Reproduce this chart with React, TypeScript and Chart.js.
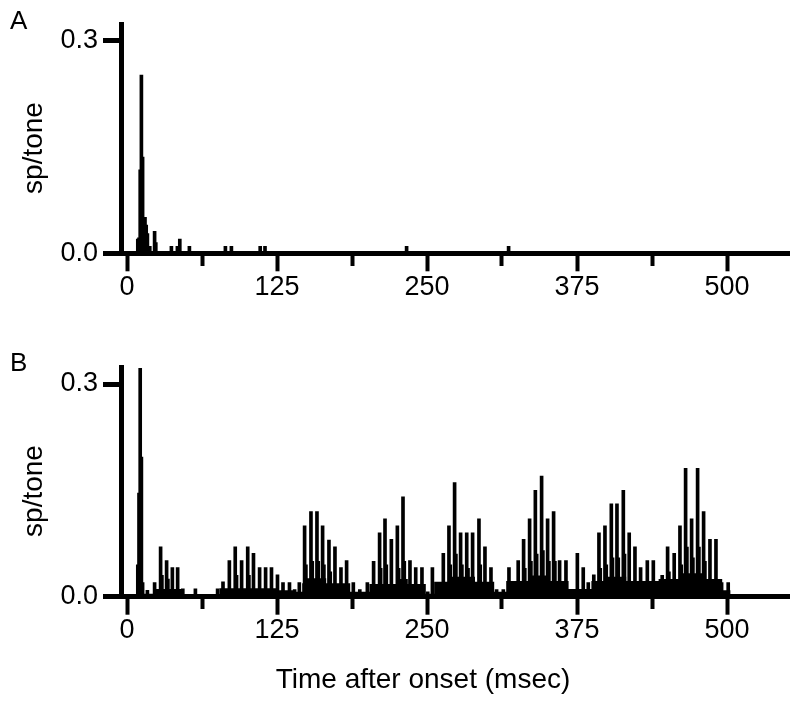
import React, { useEffect, useRef } from 'react';
import { Chart, registerables } from 'chart.js';

Chart.register(...registerables);

// ---- axis ranges / ticks ----
const xMin = -5;
const xMax = 552;
const yMax = 0.324;
const xMajorTicks = [0, 125, 250, 375, 500];
const xMinorTicks = [62.5, 187.5, 312.5, 437.5];
const yTicks = [0, 0.3];

// ---- Panel A: spike histogram (msec, sp/tone) ----
const spikeTimesA = [9, 10, 11, 12, 13, 14, 15, 16, 17, 18, 19, 23, 24, 37, 42, 44, 52, 82, 87, 111, 115, 233, 318];
const spikeValuesA = [0.02, 0.022, 0.118, 0.252, 0.136, 0.024, 0.051, 0.04, 0.028, 0.01, 0.01, 0.031, 0.015, 0.01, 0.01, 0.02, 0.01, 0.01, 0.01, 0.01, 0.01, 0.01, 0.01];

// ---- Panel B: spike peaks (msec, sp/tone) ----
const spikeTimesB = [
  9, 10, 11, 12, 13,
  17, 23, 28, 33, 37.8, 42.2, 46.5, 57, 75.5, 80,
  85.3, 90.2, 95.5, 100.6, 105.4, 110.5, 115.5, 120.4, 125.4, 130, 135.4, 139.7,
  143.6, 148, 153.3, 158.3, 163, 168.3, 173.3, 178.3, 183, 188.6, 194,
  200.3, 205.5, 210.5, 215, 220.3, 225.3, 230, 235.8, 240.6, 245.8, 250.6,
  254.5, 258, 263.6, 268.3, 273, 278, 283.1, 288, 293.3, 298.3, 303.3, 308, 313.6,
  318.3, 326, 330.5, 335.5, 340.3, 345.5, 350.5, 355.5, 360.5, 365.8, 370.5,
  375.3, 380.2, 384.4, 389, 393.3, 398.3, 403.6, 408.3, 413.6, 418.5, 423.3, 428, 433.6, 438.6, 442,
  446, 450.5, 456, 460.8, 465.5, 470.5, 475.5, 480.5, 485.8, 490.8, 495.5, 501,
];
const spikeValuesB = [
  0.045, 0.146, 0.322, 0.197, 0.02,
  0.009, 0.02, 0.0705, 0.051, 0.041, 0.041, 0.011, 0.011, 0.011, 0.021,
  0.051, 0.0705, 0.051, 0.0705, 0.061, 0.041, 0.041, 0.041, 0.031, 0.02, 0.02, 0.01,
  0.02, 0.1, 0.12, 0.12, 0.1, 0.08, 0.0705, 0.041, 0.051, 0.02, 0.01,
  0.02, 0.05, 0.09, 0.11, 0.081, 0.1, 0.141, 0.051, 0.041, 0.041, 0.007,
  0.041, 0.02, 0.061, 0.1, 0.161, 0.09, 0.09, 0.09, 0.11, 0.0705, 0.041, 0.01, 0.01,
  0.041, 0.051, 0.081, 0.11, 0.15, 0.17, 0.11, 0.12, 0.051, 0.051, 0.01,
  0.061, 0.041, 0.02, 0.031, 0.09, 0.1, 0.131, 0.131, 0.15, 0.09, 0.0705, 0.041, 0.051, 0.051, 0.02,
  0.03, 0.0705, 0.061, 0.1, 0.181, 0.11, 0.181, 0.12, 0.081, 0.081, 0.02, 0.02,
];

// ---- Panel B: secondary (shoulder) bars next to the main peaks (msec, sp/tone) ----
const shoulderTimesB = [
  29.5, 34.5, 91.7, 102, 149.5, 154.8, 159.8, 164.5, 169.8,
  211.8, 216.5, 226.8, 231.5, 269.8, 274.5, 279.5, 284.6, 294.8,
  331.9, 337, 341.8, 347, 352, 357, 394.8, 399.8, 405, 409.8, 415,
  452, 462.3, 467, 472, 477, 482,
];
const shoulderValuesB = [
  0.03, 0.025, 0.03, 0.03, 0.045, 0.05, 0.05, 0.045, 0.035,
  0.04, 0.045, 0.04, 0.05, 0.045, 0.06, 0.045, 0.04, 0.045,
  0.04, 0.05, 0.06, 0.065, 0.05, 0.05, 0.04, 0.045, 0.055, 0.055, 0.06,
  0.035, 0.045, 0.07, 0.055, 0.07, 0.05,
];

// ---- Panel B: background level between spikes (bin start msec, sp/tone) ----
const bedStartB = [14, 22, 47, 77, 125, 140, 146, 150, 166, 186, 202, 226, 234, 249, 256, 270, 290, 306, 316, 335, 350, 368, 387, 400, 416, 443, 460, 481, 496, 503];
const bedValueB = [0.004, 0.011, 0.003, 0.012, 0.009, 0.007, 0.019, 0.026, 0.019, 0.007, 0.018, 0.025, 0.018, 0.004, 0.021, 0.028, 0.021, 0.007, 0.022, 0.03, 0.022, 0.011, 0.022, 0.028, 0.022, 0.025, 0.033, 0.025, 0.009, 0];

const FONT = "'Liberation Sans', Arial, Helvetica, sans-serif";
const PLOT_LEFT = 121;
const PLOT_RIGHT = 789.4;

type PanelProps = {
  top: number;
  height: number;
  plotTop: number;
  plotBottom: number;
  spikeTimes: number[];
  spikeValues: number[];
  shoulderTimes?: number[];
  shoulderValues?: number[];
  bedStart?: number[];
  bedValue?: number[];
};

function Panel({ top, height, plotTop, plotBottom, spikeTimes, spikeValues, shoulderTimes, shoulderValues, bedStart, bedValue }: PanelProps) {
  const ref = useRef<HTMLCanvasElement>(null);
  useEffect(() => {
    const datasets: any[] = [
      {
        type: 'bar',
        data: spikeTimes.map((t, i) => ({ x: t, y: spikeValues[i] })),
        backgroundColor: '#000',
        borderWidth: 0,
        barThickness: 3,
        grouped: false,
        order: 1,
      },
    ];
    if (shoulderTimes && shoulderValues) {
      datasets.push({
        type: 'bar',
        data: shoulderTimes.map((t, i) => ({ x: t, y: shoulderValues[i] })),
        backgroundColor: '#000',
        borderWidth: 0,
        barThickness: 2,
        grouped: false,
        order: 2,
      });
    }
    if (bedStart && bedValue) {
      datasets.push({
        type: 'line',
        data: bedStart.map((t, i) => ({ x: t, y: bedValue[i] })),
        stepped: true,
        fill: 'origin',
        backgroundColor: '#000',
        borderColor: '#000',
        borderWidth: 0,
        pointRadius: 0,
        order: 3,
      });
    }
    const allXTicks = [...xMajorTicks, ...xMinorTicks].sort((a, b) => a - b);
    const chart = new Chart(ref.current as HTMLCanvasElement, {
      type: 'bar',
      data: { datasets },
      options: {
        animation: false,
        responsive: false,
        devicePixelRatio: 1,
        layout: { padding: { left: 0, right: 800 - PLOT_RIGHT, top: plotTop, bottom: 0 } },
        plugins: { legend: { display: false }, tooltip: { enabled: false } },
        scales: {
          x: {
            type: 'linear',
            min: xMin,
            max: xMax,
            offset: false,
            afterFit: (s: any) => {
              s.height = height - plotBottom;
            },
            afterBuildTicks: (s: any) => {
              s.ticks = allXTicks.map((v) => ({ value: v }));
            },
            ticks: {
              autoSkip: false,
              maxRotation: 0,
              padding: 0,
              color: '#000',
              font: { size: 27, family: FONT },
              callback: (v: any) => (xMajorTicks.includes(Number(v)) ? String(v) : ''),
            },
            grid: {
              display: true,
              offset: false,
              drawOnChartArea: false,
              drawTicks: true,
              tickLength: 18,
              tickWidth: 4,
              tickColor: '#000',
              tickBorderDash: (ctx: any) => (ctx.tick && xMinorTicks.includes(ctx.tick.value) ? [10, 100] : []),
            },
            border: { display: true, width: 5, color: '#000' },
          },
          y: {
            type: 'linear',
            min: 0,
            max: yMax,
            afterFit: (s: any) => {
              s.width = PLOT_LEFT;
            },
            afterBuildTicks: (s: any) => {
              s.ticks = yTicks.map((v) => ({ value: v }));
            },
            ticks: {
              padding: 5,
              color: '#000',
              font: { size: 27, family: FONT },
              callback: (v: any) => Number(v).toFixed(1),
            },
            grid: {
              display: true,
              drawOnChartArea: false,
              drawTicks: true,
              tickLength: 18,
              tickWidth: 5,
              tickColor: '#000',
            },
            border: { display: true, width: 5, color: '#000' },
          },
        },
      } as any,
    });
    return () => chart.destroy();
  }, []);
  return (
    <canvas
      ref={ref}
      width={800}
      height={height}
      style={{ position: 'absolute', left: 0, top, width: 800, height }}
    />
  );
}

const labelStyle: React.CSSProperties = {
  position: 'absolute',
  fontFamily: FONT,
  color: '#000',
  whiteSpace: 'nowrap',
};

const yTitleStyle: React.CSSProperties = {
  ...labelStyle,
  fontSize: 28,
  lineHeight: '28px',
  transform: 'translate(-50%, -50%) rotate(-90deg)',
};

export default function App() {
  return (
    <div style={{ position: 'absolute', left: 0, top: 0, width: 800, height: 709, background: '#fff', overflow: 'hidden' }}>
      <Panel top={0} height={330} plotTop={24} plotBottom={253.3} spikeTimes={spikeTimesA} spikeValues={spikeValuesA} />
      <Panel
        top={330}
        height={379}
        plotTop={37}
        plotBottom={266.7}
        spikeTimes={spikeTimesB}
        spikeValues={spikeValuesB}
        shoulderTimes={shoulderTimesB}
        shoulderValues={shoulderValuesB}
        bedStart={bedStartB}
        bedValue={bedValueB}
      />
      <div style={{ ...labelStyle, left: 10, top: 7, fontSize: 26, lineHeight: '26px' }}>A</div>
      <div style={{ ...labelStyle, left: 10, top: 349, fontSize: 26, lineHeight: '26px' }}>B</div>
      <div style={{ ...yTitleStyle, left: 33, top: 148 }}>sp/tone</div>
      <div style={{ ...yTitleStyle, left: 33, top: 491 }}>sp/tone</div>
      <div style={{ ...labelStyle, left: 0, width: 846, textAlign: 'center', top: 665, fontSize: 28, lineHeight: '28px' }}>
        Time after onset (msec)
      </div>
    </div>
  );
}
